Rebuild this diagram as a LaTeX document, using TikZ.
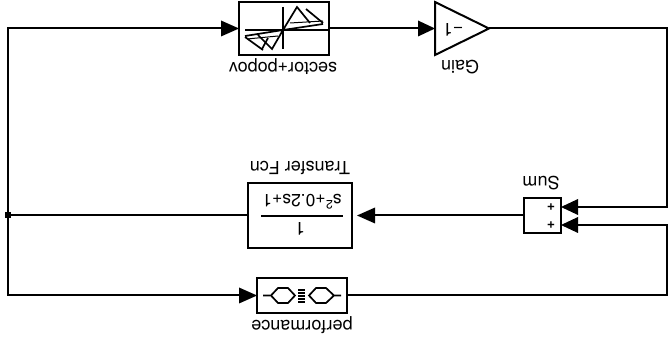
\documentclass[tikz,border=0pt]{standalone}
\usepackage{fontspec}
\setmainfont{TeX Gyre Heros}
\begin{document}
\begin{tikzpicture}[x=1pt,y=-1pt,
  wire/.style={line width=2pt},
  blockbox/.style={draw,line width=2pt,fill=white,inner sep=0pt,outer sep=0pt,minimum width=#1},
  lbl/.style={rotate=180,font=\fontsize{18}{20}\selectfont,inner sep=0pt},
  den/.style={rotate=180,font=\fontsize{17.5}{20}\selectfont,inner sep=0pt},
  icon/.style={line width=1.7pt},
  iconthin/.style={line width=1pt},
  plus/.style={rotate=180,font=\bfseries\fontsize{14}{14}\selectfont,inner sep=0pt}]
\useasboundingbox (0,0) rectangle (670,339);
% blocks
\node[blockbox=90pt,minimum height=53pt] (sector) at (284,28.5) {};
\node[blockbox=37pt,minimum height=35pt] (sum) at (542.5,215.5) {};
\node[blockbox=104pt,minimum height=65pt] (tf) at (300,215.5) {};
\node[blockbox=90pt,minimum height=35pt] (perf) at (302,295.5) {};
\coordinate (gainA) at (435,2);
\coordinate (gainB) at (435,55);
\coordinate (gainT) at (489,28.5);
\draw[line width=2pt,fill=white,line join=miter] (gainA) -- (gainT) -- (gainB) -- cycle;
% labels
\node[lbl] (lsector) at (283,67) {sector+popov};
\node[lbl] (lgain) at (460,67.5) {Gain};
\node[lbl] (ltf) at (300,168) {Transfer Fcn};
\node[lbl] (lsum) at (541,183) {Sum};
\node[lbl] (lperf) at (302,325) {performance};
\node[lbl] (gainval) at (453,30) {−1};
\node[den] (dn) at (302,202) {s\textsuperscript{2}+0.2s+1};
\node[lbl] (num) at (300,229) {1};
\draw[line width=1.7pt] (261,216) -- (343,216);
\node[plus] (p1) at (551,207) {+};
\node[plus] (p2) at (551,225) {+};
% sector icon
\draw[icon] (245,30) -- (328,30) (283,7) -- (283,49);
\draw[icon] (283,30) -- (297,7) -- (310,23) (283,30) -- (323,24) (306,9) -- (323,23);
\draw[iconthin] (290,23) -- (323,21);
\draw[icon] (283,30) -- (272,49) -- (258,35) (283,30) -- (245,36) (245,37) -- (263,50);
\draw[icon] (268,38) -- (262,49);
\draw[iconthin] (278,36) -- (247,39);
% performance icon
\draw[icon] (263,295.5) -- (271,295.5) -- (278,288) -- (288,288) -- (295,295.5) -- (288,303) -- (278,303) -- (271,295.5);
\draw[icon] (341,295.5) -- (334,295.5) -- (326,288) -- (316,288) -- (309,295.5) -- (316,303) -- (326,303) -- (334,295.5);
\foreach \yy in {288.7,291.7,294.7,297.7,300.7} \fill (298,\yy) rectangle (305,\yy+2.1);
% wires
\coordinate (junction) at (8,215.5);
\coordinate (sectorIn) at (221,28.5);
\coordinate (gainIn) at (418,28.5);
\coordinate (perfIn) at (239,295.5);
\coordinate (tfIn) at (375,215.5);
\coordinate (sumTop) at (578,207);
\coordinate (sumBot) at (578,225);
\draw[wire] (sector.east) -- (gainIn);
\draw[wire] (gainT) -- (667,28.5) |- (sumTop);
\draw[wire] (perf.east) -- (667,295.5) |- (sumBot);
\draw[wire] (sum.west) -- (tfIn);
\draw[wire] (tf.west) -- (junction);
\draw[wire] (sectorIn) -- (8,28.5) -- (8,295.5) -- (perfIn);
\fill (junction) ++(-3,-3) rectangle ++(6,6);
% arrowheads
\fill (239,28.5) -- (221,20.5) -- (221,36.5) -- cycle;
\fill (435,28.5) -- (418,20.5) -- (418,36.5) -- cycle;
\fill (257,295.5) -- (239,287.5) -- (239,303.5) -- cycle;
\fill (357,215.5) -- (375,207.5) -- (375,223.5) -- cycle;
\fill (561,207) -- (578,199) -- (578,215) -- cycle;
\fill (561,225) -- (578,217) -- (578,233) -- cycle;
\end{tikzpicture}
\end{document}
